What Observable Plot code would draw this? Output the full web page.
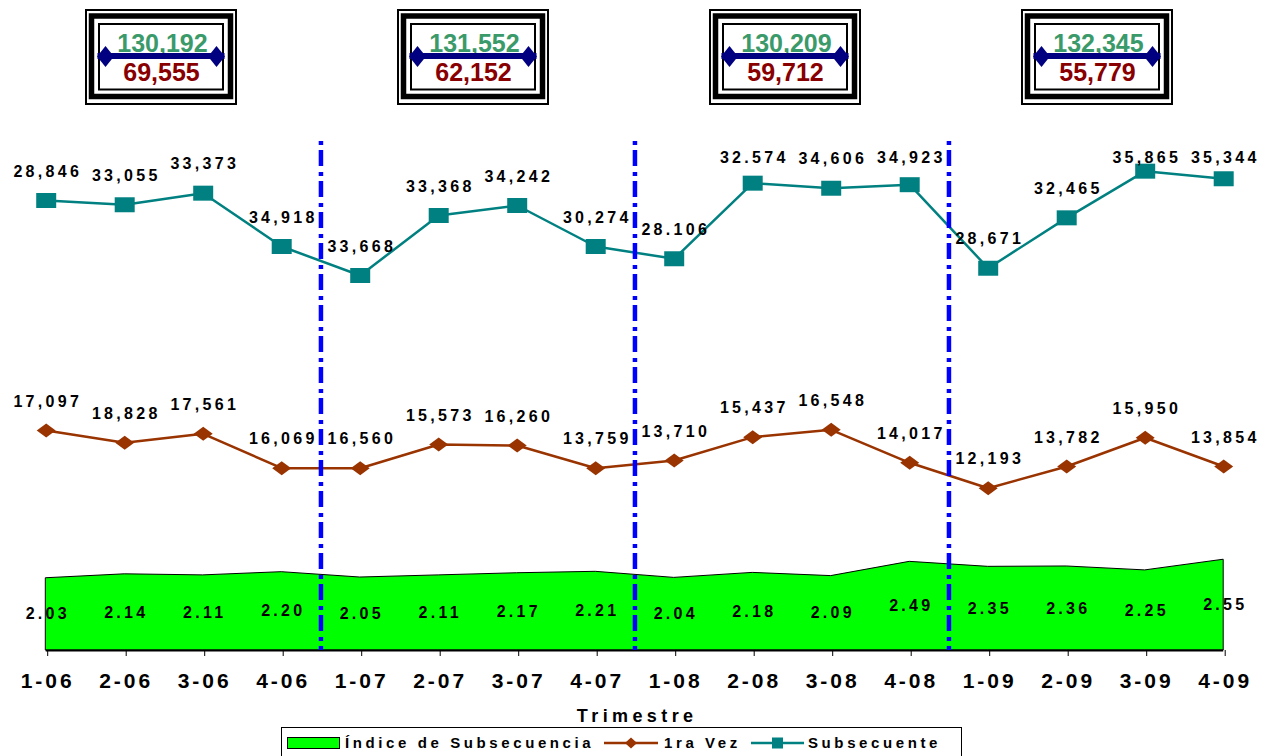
<!DOCTYPE html>
<html>
<head>
<meta charset="utf-8">
<script src="https://cdn.jsdelivr.net/npm/d3@7"></script>
<script src="https://cdn.jsdelivr.net/npm/@observablehq/plot@0.6"></script>
<style>
  body { margin: 0; background: #fff; }
</style>
</head>
<body>
<div id="chart"></div>
<script>
// ---------- data ----------
const quarters = ["1-06","2-06","3-06","4-06","1-07","2-07","3-07","4-07","1-08","2-08","3-08","4-08","1-09","2-09","3-09","4-09"];
// plotted positions (as drawn in the picture)
const subsecuente = [33750, 33430, 34300, 30300, 28125, 32625, 33375, 30300, 29380, 35050, 34670, 34935, 28670, 32450, 35950, 35380];
const primeraVez  = [16500, 15578, 16253, 13673, 13673, 15450, 15375, 13673, 14250, 16000, 16553, 14078, 12173, 13800, 15953, 13800];
const indice      = [2.03, 2.14, 2.11, 2.20, 2.05, 2.11, 2.17, 2.21, 2.04, 2.18, 2.09, 2.49, 2.35, 2.36, 2.25, 2.55];
// printed data labels
const subLabels = ["28,846","33,055","33,373","34,918","33,668","33,368","34,242","30,274","28.106","32.574","34,606","34,923","28,671","32,465","35,865","35,344"];
const vezLabels = ["17,097","18,828","17,561","16,069","16,560","15,573","16,260","13,759","13,710","15,437","16,548","14,017","12,193","13,782","15,950","13,854"];
// yearly totals (boxes)
const years     = ["2006","2007","2008","2009"];
const subTotals = ["130,192","131,552","130,209","132,345"];
const vezTotals = ["69,555","62,152","59,712","55,779"];

// ---------- layout ----------
const W = 1265, H = 756;
const X0 = 45.7, XSTEP = 78.5, Y0 = 650, YK = 75, YMAX = 40000;
const ux = px => (px - X0) / XSTEP;
const uy = py => (Y0 - py) * YK;
const IDX_K = 35.6 * YK;          // secondary axis factor for the index
const SUB_CAP = uy(186);          // labels do not go above the plot top
const FONT = "'Liberation Sans', Arial, Helvetica, sans-serif";

const rows = quarters.map((q, i) => ({
  i, q, sub: subsecuente[i], vez: primeraVez[i], idx: indice[i],
  subLabel: subLabels[i], vezLabel: vezLabels[i]
}));
const boxes = years.map((y, k) => ({k, year: y, sub: subTotals[k], vez: vezTotals[k], cx: 161 + 312 * k}));
const boxEnds = boxes.flatMap(b => [b.cx - 56, b.cx + 55]);
const separators = d3.range(1, years.length).map(k => k * 4 - 0.5);

// custom symbols
const rectSym = {draw(ctx, size) { const r = Math.sqrt(size / Math.PI); ctx.rect(-r, -0.75 * r, 2 * r, 1.5 * r); }};
const diamondSym = {draw(ctx, size) { const r = Math.sqrt(size / Math.PI);
  ctx.moveTo(0, -0.74 * r); ctx.lineTo(r, 0); ctx.lineTo(0, 0.74 * r); ctx.lineTo(-r, 0); ctx.closePath(); }};
const tallDiamond = {draw(ctx, size) { const r = Math.sqrt(size / Math.PI);
  ctx.moveTo(0, -r); ctx.lineTo(0.8 * r, 0); ctx.lineTo(0, r); ctx.lineTo(-0.8 * r, 0); ctx.closePath(); }};

const bold = {fontWeight: "bold", fill: "black"};

const svg = Plot.plot({
  width: W, height: H,
  marginLeft: X0, marginRight: W - (X0 + 15 * XSTEP),
  marginTop: Y0 - YMAX / YK, marginBottom: H - Y0,
  x: {type: "linear", domain: [0, 15], axis: null},
  y: {domain: [0, YMAX], axis: null},
  style: {fontFamily: FONT, background: "#fff", overflow: "visible"},
  marks: [
    // index area
    Plot.areaY(rows, {x: "i", y: d => d.idx * IDX_K, fill: "#00ff00", stroke: "black", strokeWidth: 1}),
    // x axis
    Plot.ruleY([0], {x1: 0, x2: 15, stroke: "black", strokeWidth: 2}),
    Plot.axisX(d3.range(quarters.length), {tickFormat: i => quarters[i], tickSize: 6, tickPadding: 17,
      fontSize: 21, fontWeight: "bold", dx: 1.5, label: null}),
    // lines
    Plot.line(rows, {x: "i", y: "sub", stroke: "#008080", strokeWidth: 2.5}),
    Plot.dot(rows, {x: "i", y: "sub", symbol: rectSym, r: 10, fill: "#008080", stroke: "none"}),
    Plot.line(rows, {x: "i", y: "vez", stroke: "#993300", strokeWidth: 2.5}),
    Plot.dot(rows, {x: "i", y: "vez", symbol: diamondSym, r: 9.5, fill: "#993300", stroke: "none"}),
    // year separators
    Plot.ruleX(separators, {y1: uy(141), y2: 0, stroke: "#0000ff", strokeWidth: 4.5, strokeDasharray: "4,5,16,6"}),
    // labels
    Plot.text(rows, {x: "i", y: d => Math.min(d.sub, SUB_CAP), text: "subLabel", dy: -29, dx: 1.6, fontSize: 16, ...bold}),
    Plot.text(rows, {x: "i", y: "vez", text: "vezLabel", dy: -29, dx: 1.6, fontSize: 16, ...bold}),
    Plot.text(rows, {x: "i", y: d => d.idx * IDX_K / 2, text: d => d3.format(".2f")(d.idx), dx: 1.6, fontSize: 16, ...bold}),
    // axis title
    Plot.text(["Trimestre"], {x: 7.5, y: uy(716), text: d => d, fontSize: 18, dx: 2.2, ...bold}),
    // year total boxes
    Plot.rect(boxes, {x1: b => ux(b.cx - 75), x2: b => ux(b.cx + 75), y1: uy(104), y2: uy(10), fill: "white", stroke: "black", strokeWidth: 2}),
    Plot.rect(boxes, {x1: b => ux(b.cx - 69.5), x2: b => ux(b.cx + 69.5), y1: uy(96.5), y2: uy(16), fill: "none", stroke: "black", strokeWidth: 5.5}),
    Plot.rect(boxes, {x1: b => ux(b.cx - 62), x2: b => ux(b.cx + 62), y1: uy(89.5), y2: uy(24), fill: "none", stroke: "black", strokeWidth: 2}),
    Plot.text(boxes, {x: b => ux(b.cx + 1), y: uy(43.5), text: "sub", fill: "#3a9a6a", fontSize: 25, fontWeight: "bold"}),
    Plot.link(boxes, {x1: b => ux(b.cx - 64), x2: b => ux(b.cx + 63), y1: uy(55.5), y2: uy(55.5), stroke: "#000080", strokeWidth: 6}),
    Plot.dot(boxEnds, {x: p => ux(p), y: uy(56), symbol: tallDiamond, r: 10.5, fill: "#000080", stroke: "none"}),
    Plot.text(boxes, {x: b => ux(b.cx), y: uy(72), text: "vez", fill: "#880000", fontSize: 25, fontWeight: "bold"})
  ]
});

const s = d3.select(svg);
s.selectAll('g[font-size="16"]').style("letter-spacing", "3.3px");
s.selectAll('g[font-size="21"]').style("letter-spacing", "3px");
s.selectAll('g[font-size="18"]').style("letter-spacing", "4.4px");

// legend
const lg = s.append("g").attr("font-family", FONT).attr("font-size", 15).attr("font-weight", "bold")
  .attr("text-anchor", "start").style("letter-spacing", "3.6px");
lg.append("rect").attr("x", 281.5).attr("y", 727.5).attr("width", 680).attr("height", 40)
  .attr("fill", "white").attr("stroke", "black");
lg.append("rect").attr("x", 287.5).attr("y", 737.5).attr("width", 52).attr("height", 11)
  .attr("fill", "#00ff00").attr("stroke", "black");
lg.append("text").attr("x", 345).attr("y", 748).attr("text-anchor", "start").text("Índice de Subsecuencia");
lg.append("line").attr("x1", 604).attr("x2", 658).attr("y1", 743).attr("y2", 743).attr("stroke", "#993300").attr("stroke-width", 2.5);
lg.append("path").attr("d", "M631,737.5L637,743L631,748.5L625,743Z").attr("fill", "#993300");
lg.append("text").attr("x", 664).attr("y", 748).attr("text-anchor", "start").text("1ra Vez");
lg.append("line").attr("x1", 751).attr("x2", 804).attr("y1", 743).attr("y2", 743).attr("stroke", "#008080").attr("stroke-width", 2.5);
lg.append("rect").attr("x", 772).attr("y", 737.5).attr("width", 11).attr("height", 11).attr("fill", "#008080");
lg.append("text").attr("x", 808).attr("y", 748).attr("text-anchor", "start").text("Subsecuente");

document.getElementById("chart").appendChild(svg);
</script>
</body>
</html>
